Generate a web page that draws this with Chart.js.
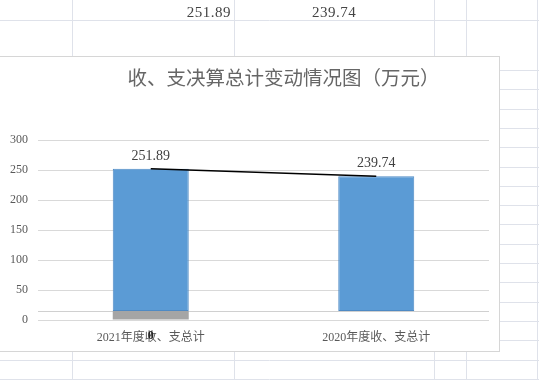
<!DOCTYPE html>
<html>
<head>
<meta charset="utf-8">
<script src="https://cdn.jsdelivr.net/npm/chart.js@4/dist/chart.umd.min.js"></script>
<style>
  html, body { margin: 0; padding: 0; background: #fff; }
  body { width: 539px; height: 380px; position: relative; overflow: hidden; }
  #sheet { position: absolute; left: 0; top: 0; }
  .cell { position: absolute; top: 4px; font: 15px "Liberation Serif", serif; color: #444; letter-spacing: 0.5px; }
  #box { position: absolute; left: -2px; top: 56px; width: 502px; height: 296px;
         box-sizing: border-box; border: 1px solid #d6d6d6; background: #fff; }
  #wrap { position: absolute; left: 0; top: 0; width: 500px; height: 294px; }
</style>
</head>
<body>
<canvas id="sheet" width="539" height="380"></canvas>
<div class="cell" style="right:308px">251.89</div>
<div class="cell" style="left:312px">239.74</div>
<div id="box"><div id="wrap"><canvas id="barChart"></canvas></div></div>
<script>
// datos
const categorias = ["2021年度收、支总计", "2020年度收、支总计"];
const totales = [251.89, 239.74];
const base = 15;               // donde arrancan las barras azules
const gris = [15, null];        // barra gris (solo 2021)
const ticksY = [0, 50, 100, 150, 200, 250, 300];
const titulo = "收、支决算总计变动情况图（万元）";

// fondo tipo hoja de calculo
let sh = document.getElementById("sheet").getContext("2d");
sh.strokeStyle = "#dfe2ea";
sh.lineWidth = 1;
[72, 234, 434, 466, 537].forEach(x => {
  sh.beginPath(); sh.moveTo(x + 0.5, 0); sh.lineTo(x + 0.5, 380); sh.stroke();
});
sh.beginPath(); sh.moveTo(0, 20.5); sh.lineTo(539, 20.5); sh.stroke();
for (let y = 70; y < 380; y += 19.3) {
  sh.beginPath(); sh.moveTo(0, Math.round(y) + 0.5); sh.lineTo(539, Math.round(y) + 0.5); sh.stroke();
}

const fuente = "'Liberation Serif', 'Noto Sans CJK SC', serif";

// titulo, linea base y etiquetas
const extras = {
  id: "extras",
  beforeDatasetsDraw(chart) {
    const { ctx, chartArea, scales } = chart;
    const y = Math.round(scales.y.getPixelForValue(base)) + 0.5;
    ctx.save();
    ctx.strokeStyle = "#d0d0d0";
    ctx.lineWidth = 1;
    ctx.beginPath(); ctx.moveTo(chartArea.left, y); ctx.lineTo(chartArea.right, y); ctx.stroke();
    ctx.restore();
  },
  afterDatasetsDraw(chart) {
    const { ctx, chartArea, scales } = chart;
    ctx.save();
    ctx.fillStyle = "#666";
    ctx.textAlign = "center";
    ctx.textBaseline = "middle";
    ctx.font = "19.5px 'Noto Sans CJK SC', sans-serif";
    ctx.fillText(titulo, 284.5, 21);
    ctx.fillStyle = "#404040";
    ctx.font = "14px " + fuente;
    totales.forEach((v, i) => {
      ctx.fillText(v.toFixed(2), scales.x.getPixelForValue(i), scales.y.getPixelForValue(v) - 13);
    });
    ctx.fillStyle = "#262626";
    ctx.font = "bold 12px " + fuente;
    ctx.fillText("0", scales.x.getPixelForValue(0), chartArea.bottom + 16);
    ctx.restore();
  }
};

let ctx = document.getElementById("barChart").getContext("2d");
let barChart = new Chart(ctx, {
  type: "bar",
  data: {
    labels: categorias,
    datasets: [
      {
        type: "line",
        data: totales,
        borderColor: "#000",
        borderWidth: 1.5,
        pointRadius: 0,
        order: 0,
      },
      {
        data: totales.map(v => [base, v]),
        backgroundColor: "#5b9bd5",
        borderColor: "#4f8ac4",
        borderWidth: 1,
        borderSkipped: false,
        grouped: false,
        order: 1,
      },
      {
        data: gris,
        backgroundColor: "#a5a5a5",
        grouped: false,
        order: 2,
      },
    ],
  },
  options: {
    responsive: true,
    maintainAspectRatio: false,
    animation: false,
    categoryPercentage: 1,
    barPercentage: 0.337,
    layout: { padding: { top: 83, right: 10, left: 0, bottom: 0 } },
    plugins: {
      legend: { display: false },
      tooltip: { enabled: false },
    },
    scales: {
      x: {
        grid: { display: false },
        border: { display: false },
        ticks: { color: "#595959", font: { size: 12, family: fuente }, padding: 3, maxRotation: 0 },
        afterFit: s => { s.height = 31; },
      },
      y: {
        min: 0,
        max: 300,
        afterBuildTicks: s => { s.ticks = ticksY.map(v => ({ value: v })); },
        grid: { color: "#d9d9d9", drawTicks: false },
        border: { display: false },
        ticks: { color: "#595959", font: { size: 12, family: fuente }, padding: 10 },
        afterFit: s => { s.width = 39; },
      },
    },
  },
  plugins: [extras],
});
</script>
</body>
</html>
